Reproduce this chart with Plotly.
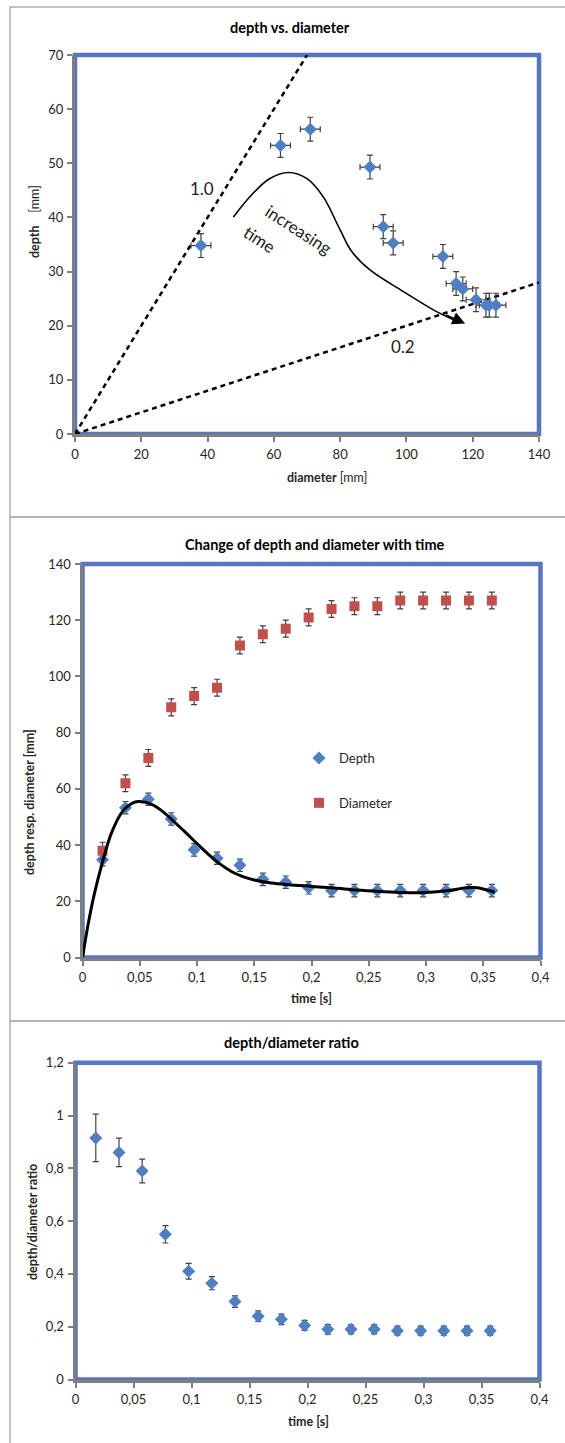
import plotly.graph_objects as go

W, H = 565, 1443

# ---------------- data ----------------
# Chart 1: depth vs diameter
diam_pts = [38, 62, 71, 89, 93, 96, 111, 115, 117, 121, 124, 125, 127]
depth_pts = [34.8, 53.3, 56.3, 49.3, 38.3, 35.3, 32.8, 27.8, 26.8, 24.8, 23.8, 23.8, 23.8]
diam_err = 3.0
depth_err = 2.2
# reference ratio lines (slope 1.0 and 0.2)
ratio1_x = [0, 70]
ratio1_y = [0, 70]
ratio02_x = [0, 140]
ratio02_y = [0, 28]
# hand-drawn "increasing time" arrow path
arrow_x = [47.8, 53.8, 58.8, 64.4, 69.9, 74.9, 80.0, 83.5, 89.0, 99.1, 109.1, 114.2]
arrow_y = [40.1, 44.5, 47.2, 48.3, 47.2, 43.8, 37.7, 33.7, 30.3, 26.3, 22.6, 21.1]

# Chart 2: depth and diameter vs time
time_s = [0.0175, 0.0375, 0.0575, 0.0775, 0.0975, 0.1175, 0.1375, 0.1575, 0.1775,
          0.1975, 0.2175, 0.2375, 0.2575, 0.2775, 0.2975, 0.3175, 0.3375, 0.3575]
depth_t = [34.8, 53.3, 56.3, 49.3, 38.3, 35.3, 32.8, 27.8, 26.8,
           24.8, 23.8, 23.8, 23.8, 23.8, 23.8, 23.8, 23.8, 23.8]
diam_t = [38, 62, 71, 89, 93, 96, 111, 115, 117,
          121, 124, 125, 125, 127, 127, 127, 127, 127]
fit_t = [0, 0.005, 0.01, 0.0175, 0.025, 0.035, 0.045, 0.05, 0.06, 0.07, 0.08, 0.09,
         0.10, 0.11, 0.12, 0.13, 0.14, 0.15, 0.165, 0.18, 0.20, 0.22, 0.24, 0.26,
         0.28, 0.30, 0.32, 0.335, 0.345, 0.36]
fit_depth = [0, 12, 22, 34, 44, 52, 55.2, 55.5, 54.6, 52.0, 48.3, 44.5, 40.5, 36.7, 33.3,
             30.6, 28.8, 27.6, 26.5, 25.9, 25.3, 24.7, 24.0, 23.5, 23.1, 23.1, 23.8,
             24.8, 24.8, 23.2]

# Chart 3: ratio
ratio = [0.915, 0.86, 0.79, 0.55, 0.41, 0.365, 0.295, 0.24, 0.228,
         0.205, 0.19, 0.19, 0.19, 0.185, 0.185, 0.185, 0.185, 0.185]
ratio_err = [0.09, 0.054, 0.045, 0.033, 0.03, 0.025, 0.022, 0.02, 0.02,
             0.019, 0.018, 0.017, 0.017, 0.017, 0.017, 0.017, 0.017, 0.017]

# ---------------- styling ----------------
BLUE = "#4f7fc0"
RED = "#c0504d"
FRAME = "#5677bf"
AXGRAY = "#7f7f7f"
ERR = "#404040"
FONT = "Lato"
TXT = "#262626"


def px(x):
    return x / W


def py(y):
    return 1 - y / H


fig = go.Figure()

# ---- chart 1 ----
fig.add_trace(go.Scatter(x=ratio1_x, y=ratio1_y, mode="lines", xaxis="x", yaxis="y",
                         line=dict(color="black", width=2.5, dash="5px,4px"), showlegend=False))
fig.add_trace(go.Scatter(x=ratio02_x, y=ratio02_y, mode="lines", xaxis="x", yaxis="y",
                         line=dict(color="black", width=2.5, dash="5px,4px"), showlegend=False))
fig.add_trace(go.Scatter(x=arrow_x, y=arrow_y, mode="lines", xaxis="x", yaxis="y",
                         line=dict(color="black", width=1.6, shape="spline", smoothing=1.0),
                         showlegend=False))
fig.add_trace(go.Scatter(x=diam_pts, y=depth_pts, mode="markers", xaxis="x", yaxis="y",
                         marker=dict(symbol="diamond", size=10, color=BLUE),
                         error_x=dict(type="constant", value=diam_err, color=ERR, thickness=1.2, width=3),
                         error_y=dict(type="constant", value=depth_err, color=ERR, thickness=1.2, width=3),
                         showlegend=False))

# ---- chart 2 ----
fig.add_trace(go.Scatter(x=time_s, y=depth_t, mode="markers", xaxis="x2", yaxis="y2",
                         name="Depth", legendgroup="a",
                         marker=dict(symbol="diamond", size=10, color=BLUE),
                         error_y=dict(type="constant", value=depth_err, color=ERR, thickness=1.2, width=3)))
fig.add_trace(go.Scatter(x=time_s, y=diam_t, mode="markers", xaxis="x2", yaxis="y2",
                         name="Diameter", legendgroup="b",
                         marker=dict(symbol="square", size=10, color=RED),
                         error_y=dict(type="constant", value=3, color=ERR, thickness=1.2, width=3)))
fig.add_trace(go.Scatter(x=fit_t, y=fit_depth, mode="lines", xaxis="x2", yaxis="y2",
                         line=dict(color="black", width=3, shape="spline", smoothing=0.9),
                         showlegend=False))

# ---- chart 3 ----
fig.add_trace(go.Scatter(x=time_s, y=ratio, mode="markers", xaxis="x3", yaxis="y3",
                         marker=dict(symbol="diamond", size=10, color=BLUE),
                         error_y=dict(type="data", array=ratio_err, color=ERR, thickness=1.2, width=3),
                         showlegend=False))

axis_common = dict(showgrid=False, zeroline=False, showline=True, linecolor=AXGRAY, linewidth=3,
                   ticks="outside", ticklen=5, tickwidth=2, tickcolor=AXGRAY,
                   tickfont=dict(family=FONT, size=13, color=TXT), ticklabelstandoff=1,
                   fixedrange=True, automargin=False)

dom1x = [px(75), px(539)]
dom1y = [py(434), py(55)]
dom2x = [px(82.5), px(540.5)]
dom2y = [py(957.5), py(564)]
dom3x = [px(75.5), px(539.5)]
dom3y = [py(1379.5), py(1062.7)]

fig.update_layout(
    width=W, height=H, autosize=False,
    margin=dict(l=0, r=0, t=0, b=0, pad=0),
    paper_bgcolor="white", plot_bgcolor="white",
    separators=",.",
    font=dict(family=FONT, color=TXT),
    xaxis=dict(domain=dom1x, anchor="y", range=[0, 140], dtick=20, **axis_common),
    yaxis=dict(domain=dom1y, anchor="x", range=[0, 70], dtick=10, **axis_common),
    xaxis2=dict(domain=dom2x, anchor="y2", range=[0, 0.4], dtick=0.05, **axis_common),
    yaxis2=dict(domain=dom2y, anchor="x2", range=[0, 140], dtick=20, **axis_common),
    xaxis3=dict(domain=dom3x, anchor="y3", range=[0, 0.4], dtick=0.05, **axis_common),
    yaxis3=dict(domain=dom3y, anchor="x3", range=[0, 1.2], dtick=0.2, **axis_common),
    legend=dict(x=px(299), y=py(743), xanchor="left", yanchor="top",
                bgcolor="rgba(0,0,0,0)", font=dict(family=FONT, size=13, color=TXT),
                traceorder="grouped", tracegroupgap=25, itemwidth=30),
)

shapes = []
# panel separators
for (y0, y1) in [(7, 517), (517, 1021), (1021, 1460)]:
    shapes.append(dict(type="rect", xref="paper", yref="paper", x0=px(10), x1=px(580),
                       y0=py(y1), y1=py(y0), line=dict(color="#b0b0b0", width=1.5),
                       layer="below"))
# blue plot frames
for xr, yr in [("x", "y"), ("x2", "y2"), ("x3", "y3")]:
    shapes.append(dict(type="rect", xref=f"{xr} domain", yref=f"{yr} domain",
                       x0=0, x1=1, y0=0, y1=1, line=dict(color=FRAME, width=4.5),
                       layer="below"))
fig.update_layout(shapes=shapes)


def pann(text, x, y, size=12.5, angle=0, color=TXT):
    return dict(text=text, x=px(x), y=py(y), xref="paper", yref="paper",
                xanchor="center", yanchor="middle", textangle=angle,
                showarrow=False, font=dict(size=size, family=FONT, color=color))


ann = []
# titles
ann.append(pann("<b>depth vs. diameter</b>", 290, 28, 14.5, color="black"))
ann.append(pann("<b>Change of depth and diameter with time</b>", 315, 544, 14.5, color="black"))
ann.append(pann("<b>depth/diameter ratio</b>", 291, 1042, 14.5, color="black"))
# axis titles
ann.append(pann("<b>diameter</b> [mm]", 327, 477))
ann.append(pann("<b>depth</b>    [mm]", 34, 222, angle=-90))
ann.append(pann("<b>time [s]</b>", 311, 998))
ann.append(pann("<b>depth resp. diameter [mm]</b>", 29, 802, angle=-90))
ann.append(pann("<b>time [s]</b>", 308, 1421))
ann.append(pann("<b>depth/diameter ratio</b>", 32, 1222, angle=-90))


def dann(text, x, y, angle=0):
    return dict(text=text, x=x, y=y, xref="x", yref="y", showarrow=False,
                xanchor="center", yanchor="middle", textangle=angle,
                font=dict(size=17, family=FONT, color="#222"))


# chart 1 in-plot labels
ann.append(dann("1.0", 38.2, 45.4))
ann.append(dann("0.2", 99.1, 16.1))
ann.append(dann("increasing", 67.4, 37.7, 33))
ann.append(dann("time", 55.8, 36.0, 33))
# arrow head
ann.append(dict(text="", x=117.7, y=20.4, ax=111.5, ay=22.1, xref="x", yref="y",
                axref="x", ayref="y", showarrow=True, arrowhead=2, arrowsize=1.6,
                arrowwidth=1.6, arrowcolor="black", standoff=0))
fig.update_layout(annotations=ann)

post = ("document.documentElement.style.margin='0';"
        "document.documentElement.style.overflow='hidden';"
        "document.body.style.margin='0';document.body.style.padding='0';"
        "document.body.style.overflow='hidden';")
fig.write_html("out.html", post_script=post,
               config={"displayModeBar": False, "staticPlot": True})
